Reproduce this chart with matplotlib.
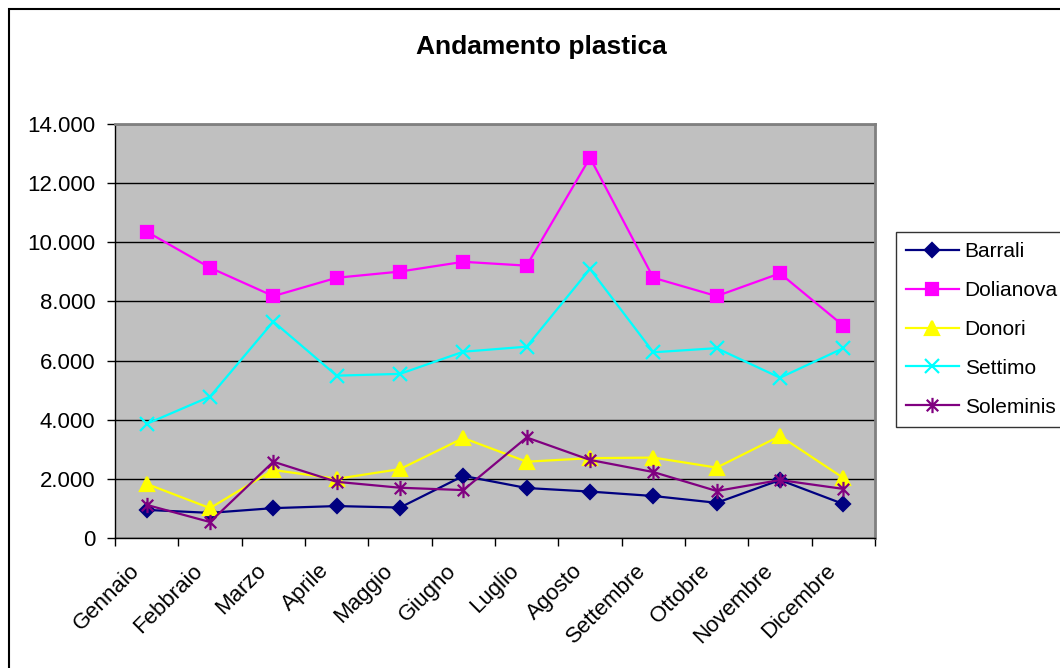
import matplotlib
matplotlib.use("Agg")
import matplotlib.pyplot as plt
from matplotlib.path import Path
from matplotlib.patches import Rectangle
from matplotlib.ticker import FuncFormatter
from matplotlib.transforms import ScaledTranslation
import numpy as np

plt.rcParams["font.family"] = ["Liberation Sans", "DejaVu Sans"]

mesi = ["Gennaio", "Febbraio", "Marzo", "Aprile", "Maggio", "Giugno",
        "Luglio", "Agosto", "Settembre", "Ottobre", "Novembre", "Dicembre"]
barrali = [950, 850, 1010, 1080, 1030, 2100, 1690, 1570, 1420, 1190, 1960, 1150]
dolianova = [10360, 9140, 8180, 8800, 9010, 9340, 9210, 12860, 8800, 8180, 8950, 7180]
donori = [1830, 1010, 2300, 2000, 2330, 3380, 2580, 2700, 2720, 2380, 3450, 2030]
settimo = [3860, 4780, 7320, 5490, 5550, 6300, 6470, 9100, 6280, 6420, 5420, 6420]
soleminis = [1120, 540, 2580, 1900, 1700, 1620, 3400, 2640, 2230, 1590, 1960, 1660]

# excel-style star: vertical bar + X
star = Path([(0, -1), (0, 1), (-0.75, -0.75), (0.75, 0.75), (-0.75, 0.75), (0.75, -0.75)],
            [Path.MOVETO, Path.LINETO, Path.MOVETO, Path.LINETO, Path.MOVETO, Path.LINETO])

series = [
    ("Barrali", barrali, "#000080", "D", 7.5),
    ("Dolianova", dolianova, "#FF00FF", "s", 9),
    ("Donori", donori, "#FFFF00", "^", 10.5),
    ("Settimo", settimo, "#00FFFF", "x", 9.5),
    ("Soleminis", soleminis, "#800080", star, 11),
]

fig = plt.figure(figsize=(10.6, 6.68), dpi=100)
ax = fig.add_axes([115/1060, 1-538/668, 760/1060, 414/668])
ax.set_facecolor("#C0C0C0")

x = np.arange(len(mesi)) + 0.5
handles = []
for name, vals, col, mk, ms in series:
    h, = ax.plot(x, vals, color=col, lw=1.6, marker=mk, ms=ms,
                 markerfacecolor=col, markeredgecolor=col, mew=1.6, label=name, zorder=3)
    handles.append(h)

ax.set_xlim(0, 12)
ax.set_ylim(0, 14000)
ax.set_yticks(np.arange(0, 14001, 2000))
ax.yaxis.set_major_formatter(FuncFormatter(lambda v, p: f"{int(v):,}".replace(",", ".")))
ax.grid(axis="y", color="black", lw=1, zorder=1)
ax.set_axisbelow(True)

ax.set_xticks(np.arange(0, 13))
ax.set_xticklabels([])
ax.set_xticks(x, minor=True)
ax.set_xticklabels(mesi, minor=True, rotation=45, ha="right", va="top",
                   rotation_mode="anchor", fontsize=16)
ax.tick_params(axis="x", which="minor", length=0, pad=16)
ax.tick_params(axis="x", which="major", length=6, width=1, direction="out")
ax.tick_params(axis="y", length=6, width=1, direction="out", labelsize=16, pad=8)
# nudge month labels left, like excel does
shift = ScaledTranslation(-0.18, 0, fig.dpi_scale_trans)
for t in ax.xaxis.get_minor_ticks():
    t.label1.set_transform(t.label1.get_transform() + shift)

for s in ("top", "right"):
    ax.spines[s].set_color("#808080")
    ax.spines[s].set_linewidth(2)
for s in ("left", "bottom"):
    ax.spines[s].set_color("black")
    ax.spines[s].set_linewidth(1)

fig.text(541/1060, 1-47/668, "Andamento plastica", ha="center", va="center",
         fontsize=19, fontweight="bold")

leg = fig.legend(handles=handles, loc="lower left", bbox_to_anchor=(896/1060, 1-427/668),
                 frameon=True, fancybox=False, fontsize=15, handlelength=2.5,
                 handletextpad=0.3, labelspacing=0.95, borderpad=0.5, borderaxespad=0)
leg.get_frame().set_edgecolor("black")
leg.get_frame().set_linewidth(1)

# outer chart frame (cut off at right and bottom)
fig.patches.append(Rectangle((9/1060, -0.1), 1.2, 1.1 - 9/668, transform=fig.transFigure,
                             fill=False, edgecolor="black", lw=1.5, clip_on=False))

fig.savefig("out.png", dpi=100)
